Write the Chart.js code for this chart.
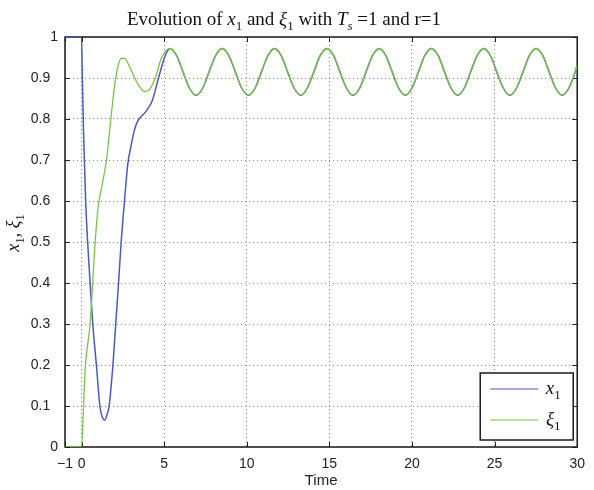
<!DOCTYPE html>
<html>
<head>
<meta charset="utf-8">
<script src="https://cdn.jsdelivr.net/npm/chart.js@4.4.0/dist/chart.umd.min.js"></script>
<style>
html, body { margin: 0; padding: 0; background: #fff; }
</style>
</head>
<body>
<canvas id="myChart" width="594" height="490"></canvas>
<script>
// tick positions on the time axis
const xTicks = [-1, 0, 5, 10, 15, 20, 25, 30];

// x1 transient (blue)
const x1Time  = [-1, 0, 0.05, 0.12, 0.25, 0.37, 0.52, 0.68, 0.9, 1.11, 1.25, 1.41, 1.55, 1.67, 1.9, 2.07, 2.24, 2.4, 2.6, 2.8, 3.0, 3.2, 3.4, 3.89, 4.29, 4.68, 5.08];
const x1Value = [1, 1, 0.9, 0.77, 0.6, 0.5, 0.4, 0.3, 0.2, 0.1, 0.074, 0.066, 0.08, 0.1, 0.2, 0.3, 0.4, 0.5, 0.6, 0.69, 0.735, 0.773, 0.795, 0.818, 0.846, 0.903, 0.956];

// xi1 transient (green)
const xiTime  = [-1, 0, 0.1, 0.22, 0.52, 0.82, 1.01, 1.25, 1.51, 1.8, 2.0, 2.2, 2.4, 2.6, 2.9, 3.39, 3.79, 4.09, 4.49, 4.79, 5.08];
const xiValue = [0, 0, 0.08, 0.19, 0.30, 0.497, 0.586, 0.64, 0.70, 0.81, 0.88, 0.928, 0.948, 0.948, 0.928, 0.887, 0.867, 0.871, 0.903, 0.944, 0.965];

// steady oscillation, both signals on top of each other
const steadyTime = [5.35, 5.75, 6.14, 6.54, 6.93, 7.33, 7.72, 8.12, 8.52, 8.91, 9.31, 9.70, 10.10, 10.50, 10.89, 11.29,
  11.68, 12.08, 12.47, 12.87, 13.27, 13.66, 14.06, 14.45, 14.85, 15.25, 15.64, 16.04, 16.43, 16.83, 17.22, 17.62,
  18.01, 18.41, 18.80, 19.20, 19.60, 19.99, 20.39, 20.78, 21.18, 21.58, 21.97, 22.37, 22.76, 23.16, 23.55, 23.95,
  24.34, 24.74, 25.13, 25.53, 25.93, 26.32, 26.72, 27.11, 27.51, 27.91, 28.30, 28.70, 29.09, 29.49, 29.88, 30.0];
const steadyValue = [0.972, 0.955, 0.915, 0.875, 0.858, 0.875, 0.915, 0.955, 0.972, 0.955, 0.915, 0.875, 0.858, 0.875, 0.915, 0.955,
  0.972, 0.955, 0.915, 0.875, 0.858, 0.875, 0.915, 0.955, 0.972, 0.955, 0.915, 0.875, 0.858, 0.875, 0.915, 0.955,
  0.972, 0.955, 0.915, 0.875, 0.858, 0.875, 0.915, 0.955, 0.972, 0.955, 0.915, 0.875, 0.858, 0.875, 0.915, 0.955,
  0.972, 0.955, 0.915, 0.875, 0.858, 0.875, 0.915, 0.955, 0.972, 0.955, 0.915, 0.875, 0.858, 0.875, 0.915, 0.932];

const BLUE = '#4a58c4';
const GREEN = '#7cc244';
const SERIF = '"Liberation Serif", "DejaVu Serif", serif';
const SANS = '"Liberation Sans", Arial, sans-serif';

function toPoints(t, v) {
    return t.map((x, i) => ({ x: x, y: v[i] }));
}

// draws a line of text with italic parts and subscripts, centred on x
function drawRich(ctx, parts, x, y, size) {
    let total = 0;
    const items = parts.map(p => {
        const fs = p.sub ? Math.round(size * 0.7) : size;
        const font = (p.it ? 'italic ' : '') + fs + 'px ' + SERIF;
        ctx.font = font;
        const w = ctx.measureText(p.t).width;
        total += w;
        return { t: p.t, sub: p.sub, font: font, w: w };
    });
    let cx = x - total / 2;
    ctx.textAlign = 'left';
    ctx.textBaseline = 'alphabetic';
    items.forEach(p => {
        ctx.font = p.font;
        ctx.fillText(p.t, cx, y + (p.sub ? size * 0.28 : 0));
        cx += p.w;
    });
    return total;
}

const decor = {
    id: 'decor',
    beforeDatasetsDraw(chart) {
        const ctx = chart.ctx;
        const a = chart.chartArea;
        const xs = chart.scales.x, ys = chart.scales.y;
        ctx.save();
        // inward tick marks, matlab style
        ctx.strokeStyle = '#222';
        ctx.lineWidth = 1;
        ctx.beginPath();
        xs.ticks.forEach(t => {
            const px = Math.round(xs.getPixelForValue(t.value)) + 0.5;
            ctx.moveTo(px, a.bottom); ctx.lineTo(px, a.bottom - 5);
            ctx.moveTo(px, a.top); ctx.lineTo(px, a.top + 5);
        });
        ys.ticks.forEach(t => {
            const py = Math.round(ys.getPixelForValue(t.value)) + 0.5;
            ctx.moveTo(a.left, py); ctx.lineTo(a.left + 5, py);
            ctx.moveTo(a.right, py); ctx.lineTo(a.right - 5, py);
        });
        ctx.stroke();
        // frame (curves are drawn over it)
        ctx.lineWidth = 1.5;
        ctx.strokeStyle = '#1a1a1a';
        ctx.strokeRect(a.left, a.top, a.right - a.left, a.bottom - a.top);
        ctx.restore();
    },
    afterDraw(chart) {
        const ctx = chart.ctx;
        const a = chart.chartArea;
        ctx.save();
        ctx.fillStyle = '#111';

        // title
        drawRich(ctx, [
            { t: 'Evolution of ' }, { t: 'x', it: 1 }, { t: '1', sub: 1 },
            { t: ' and ' }, { t: 'ξ', it: 1 }, { t: '1', sub: 1 },
            { t: ' with ' }, { t: 'T', it: 1 }, { t: 's', it: 1, sub: 1 },
            { t: ' =1 and r=1' }
        ], 284, 25, 19);

        // y axis label
        ctx.save();
        ctx.translate(14, (a.top + a.bottom) / 2 - 9);
        ctx.rotate(-Math.PI / 2);
        drawRich(ctx, [
            { t: 'x', it: 1 }, { t: '1', sub: 1 }, { t: ', ' },
            { t: 'ξ', it: 1 }, { t: '1', sub: 1 }
        ], 0, 5, 18);
        ctx.restore();

        // legend box, lower right
        const bw = 93, bh = 67;
        const bx = a.right - 4 - bw, by = a.bottom - 7 - bh;
        ctx.fillStyle = '#fff';
        ctx.fillRect(bx, by, bw, bh);
        ctx.lineWidth = 1.5;
        ctx.strokeStyle = '#1a1a1a';
        ctx.strokeRect(bx, by, bw, bh);
        const entries = [
            { color: BLUE, parts: [{ t: 'x', it: 1 }, { t: '1', sub: 1 }], y: by + 16 },
            { color: GREEN, parts: [{ t: 'ξ', it: 1 }, { t: '1', sub: 1 }], y: by + 47 }
        ];
        entries.forEach(e => {
            ctx.strokeStyle = e.color;
            ctx.lineWidth = 1.2;
            ctx.beginPath();
            ctx.moveTo(bx + 10, e.y); ctx.lineTo(bx + 58, e.y);
            ctx.stroke();
            ctx.fillStyle = '#111';
            drawRich(ctx, e.parts, bx + 73, e.y + 5, 19);
        });
        ctx.restore();
    }
};

const ctx = document.getElementById('myChart').getContext('2d');

const chart = new Chart(ctx, {
    type: 'line',
    data: {
        datasets: [
            {
                label: 'x1',
                data: toPoints(x1Time.concat(steadyTime), x1Value.concat(steadyValue)),
                borderColor: BLUE,
                borderWidth: 1.5,
                pointRadius: 0,
                cubicInterpolationMode: 'monotone',
                order: 1,
            },
            {
                label: 'ξ1',
                data: toPoints(xiTime.concat(steadyTime), xiValue.concat(steadyValue)),
                borderColor: GREEN,
                borderWidth: 1.3,
                pointRadius: 0,
                cubicInterpolationMode: 'monotone',
                order: 0,
            },
        ],
    },
    options: {
        responsive: false,
        animation: false,
        layout: { padding: { top: 37, right: 9, left: 0, bottom: 0 } },
        plugins: {
            legend: { display: false },
            title: { display: false },
            tooltip: { enabled: false },
        },
        scales: {
            x: {
                type: 'linear',
                min: -1,
                max: 30,
                afterBuildTicks: s => { s.ticks = xTicks.map(v => ({ value: v })); },
                afterFit: s => { s.height = 43; },
                grid: { color: '#8c8c8c', lineWidth: 1, drawTicks: false },
                border: { display: false, dash: [1, 3] },
                ticks: {
                    padding: 9,
                    color: '#222',
                    font: { family: SANS, size: 14 },
                    maxRotation: 0,
                    callback: v => (v < 0 ? '\u22121' : String(v)),
                },
                title: {
                    display: true,
                    text: 'Time',
                    color: '#222',
                    font: { family: SANS, size: 15 },
                    padding: { top: 0, bottom: 0 },
                },
            },
            y: {
                min: 0,
                max: 1,
                afterFit: s => { s.width = 65; },
                grid: { color: '#8c8c8c', lineWidth: 1, drawTicks: false },
                border: { display: false, dash: [1, 3] },
                ticks: {
                    stepSize: 0.1,
                    padding: 7,
                    color: '#222',
                    font: { family: SANS, size: 14 },
                    callback: v => {
                        const r = Math.round(v * 10) / 10;
                        return (r === 0 || r === 1) ? String(r) : r.toFixed(1) + '  ';
                    },
                },
            },
        },
    },
    plugins: [decor],
});
</script>
</body>
</html>
